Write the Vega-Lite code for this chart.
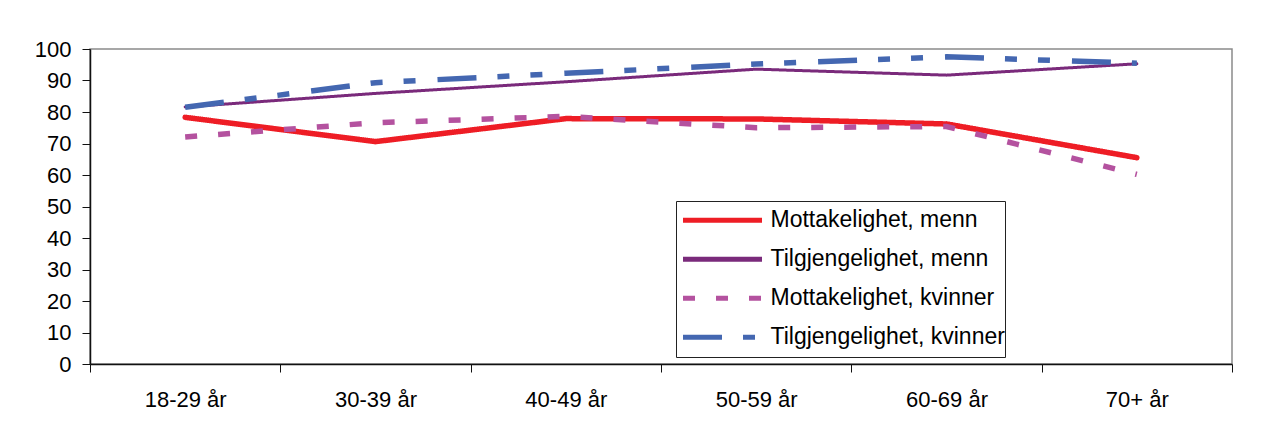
{
  "$schema": "https://vega.github.io/schema/vega-lite/v6.json",
  "width": 1142,
  "height": 315,
  "autosize": {"type": "none"},
  "padding": {"left": 90, "top": 49, "right": 30, "bottom": 68},
  "background": "white",
  "data": {
    "values": [
      {"series": "Mottakelighet, menn", "age": "18-29 år", "value": 78.3},
      {"series": "Mottakelighet, menn", "age": "30-39 år", "value": 70.6},
      {"series": "Mottakelighet, menn", "age": "40-49 år", "value": 77.9},
      {"series": "Mottakelighet, menn", "age": "50-59 år", "value": 77.8},
      {"series": "Mottakelighet, menn", "age": "60-69 år", "value": 76.2},
      {"series": "Mottakelighet, menn", "age": "70+ år", "value": 65.5},
      {"series": "Tilgjengelighet, menn", "age": "18-29 år", "value": 81.6},
      {"series": "Tilgjengelighet, menn", "age": "30-39 år", "value": 85.9},
      {"series": "Tilgjengelighet, menn", "age": "40-49 år", "value": 89.6},
      {"series": "Tilgjengelighet, menn", "age": "50-59 år", "value": 93.6},
      {"series": "Tilgjengelighet, menn", "age": "60-69 år", "value": 91.7},
      {"series": "Tilgjengelighet, menn", "age": "70+ år", "value": 95.3},
      {"series": "Mottakelighet, kvinner", "age": "18-29 år", "value": 72.1},
      {"series": "Mottakelighet, kvinner", "age": "30-39 år", "value": 76.6},
      {"series": "Mottakelighet, kvinner", "age": "40-49 år", "value": 78.6},
      {"series": "Mottakelighet, kvinner", "age": "50-59 år", "value": 75.0},
      {"series": "Mottakelighet, kvinner", "age": "60-69 år", "value": 75.4},
      {"series": "Mottakelighet, kvinner", "age": "70+ år", "value": 60.2},
      {"series": "Tilgjengelighet, kvinner", "age": "18-29 år", "value": 81.5},
      {"series": "Tilgjengelighet, kvinner", "age": "30-39 år", "value": 89.3},
      {"series": "Tilgjengelighet, kvinner", "age": "40-49 år", "value": 92.3},
      {"series": "Tilgjengelighet, kvinner", "age": "50-59 år", "value": 95.2},
      {"series": "Tilgjengelighet, kvinner", "age": "60-69 år", "value": 97.5},
      {"series": "Tilgjengelighet, kvinner", "age": "70+ år", "value": 95.5}
    ]
  },
  "encoding": {
    "x": {
      "field": "age",
      "type": "ordinal",
      "sort": ["18-29 år", "30-39 år", "40-49 år", "50-59 år", "60-69 år", "70+ år"],
      "scale": {"type": "band", "paddingInner": 0, "paddingOuter": 0},
      "axis": {
        "title": null,
        "labelAngle": 0,
        "tickBand": "extent",
        "tickSize": 8,
        "labelPadding": 17,
        "domainColor": "#111",
        "domainWidth": 1.5,
        "tickColor": "#111",
        "tickWidth": 1
      }
    },
    "y": {
      "field": "value",
      "type": "quantitative",
      "scale": {"domain": [0, 100], "nice": false},
      "axis": {
        "title": null,
        "values": [0, 10, 20, 30, 40, 50, 60, 70, 80, 90, 100],
        "grid": false,
        "tickSize": 8,
        "labelPadding": 11,
        "domainColor": "#111",
        "domainWidth": 1.5,
        "tickColor": "#111",
        "tickWidth": 1
      }
    },
    "color": {
      "field": "series",
      "type": "nominal",
      "scale": {
        "domain": ["Mottakelighet, menn", "Tilgjengelighet, menn", "Mottakelighet, kvinner", "Tilgjengelighet, kvinner"],
        "range": ["#EE1D25", "#7A2A7B", "#B4529F", "#4467B1"]
      },
      "legend": {"title": null}
    },
    "strokeDash": {
      "field": "series",
      "type": "nominal",
      "scale": {
        "domain": ["Mottakelighet, menn", "Tilgjengelighet, menn", "Mottakelighet, kvinner", "Tilgjengelighet, kvinner"],
        "range": [[1, 0], [1, 0], [12, 21], [39, 21, 12, 21, 12, 22]]
      },
      "legend": {"title": null}
    }
  },
  "layer": [
    {
      "transform": [{"filter": "datum.series === 'Mottakelighet, menn'"}],
      "mark": {"type": "line", "strokeWidth": 5.5, "strokeCap": "round"}
    },
    {
      "transform": [{"filter": "datum.series === 'Tilgjengelighet, menn'"}],
      "mark": {"type": "line", "strokeWidth": 3, "strokeCap": "round"}
    },
    {
      "transform": [{"filter": "datum.series === 'Mottakelighet, kvinner' || datum.series === 'Tilgjengelighet, kvinner'"}],
      "mark": {"type": "line", "strokeWidth": 5.5}
    }
  ],
  "config": {
    "font": "Liberation Sans",
    "view": {"stroke": "#8a8a8a", "strokeWidth": 1.5},
    "axis": {
      "labelFont": "Liberation Sans",
      "labelFontSize": 22,
      "labelColor": "#000"
    },
    "legend": {
      "orient": "none",
      "legendX": 586,
      "legendY": 152,
      "strokeColor": "#222",
      "strokeWidth": 1,
      "fillColor": "#fff",
      "padding": 0,
      "rowPadding": 0,
      "clipHeight": 38.3,
      "symbolType": "stroke",
      "symbolSize": 6241,
      "symbolStrokeWidth": 5,
      "symbolOffset": 4.5,
      "labelOffset": 6,
      "labelFont": "Liberation Sans",
      "labelFontSize": 23,
      "labelColor": "#000",
      "labelLimit": 400
    }
  }
}
